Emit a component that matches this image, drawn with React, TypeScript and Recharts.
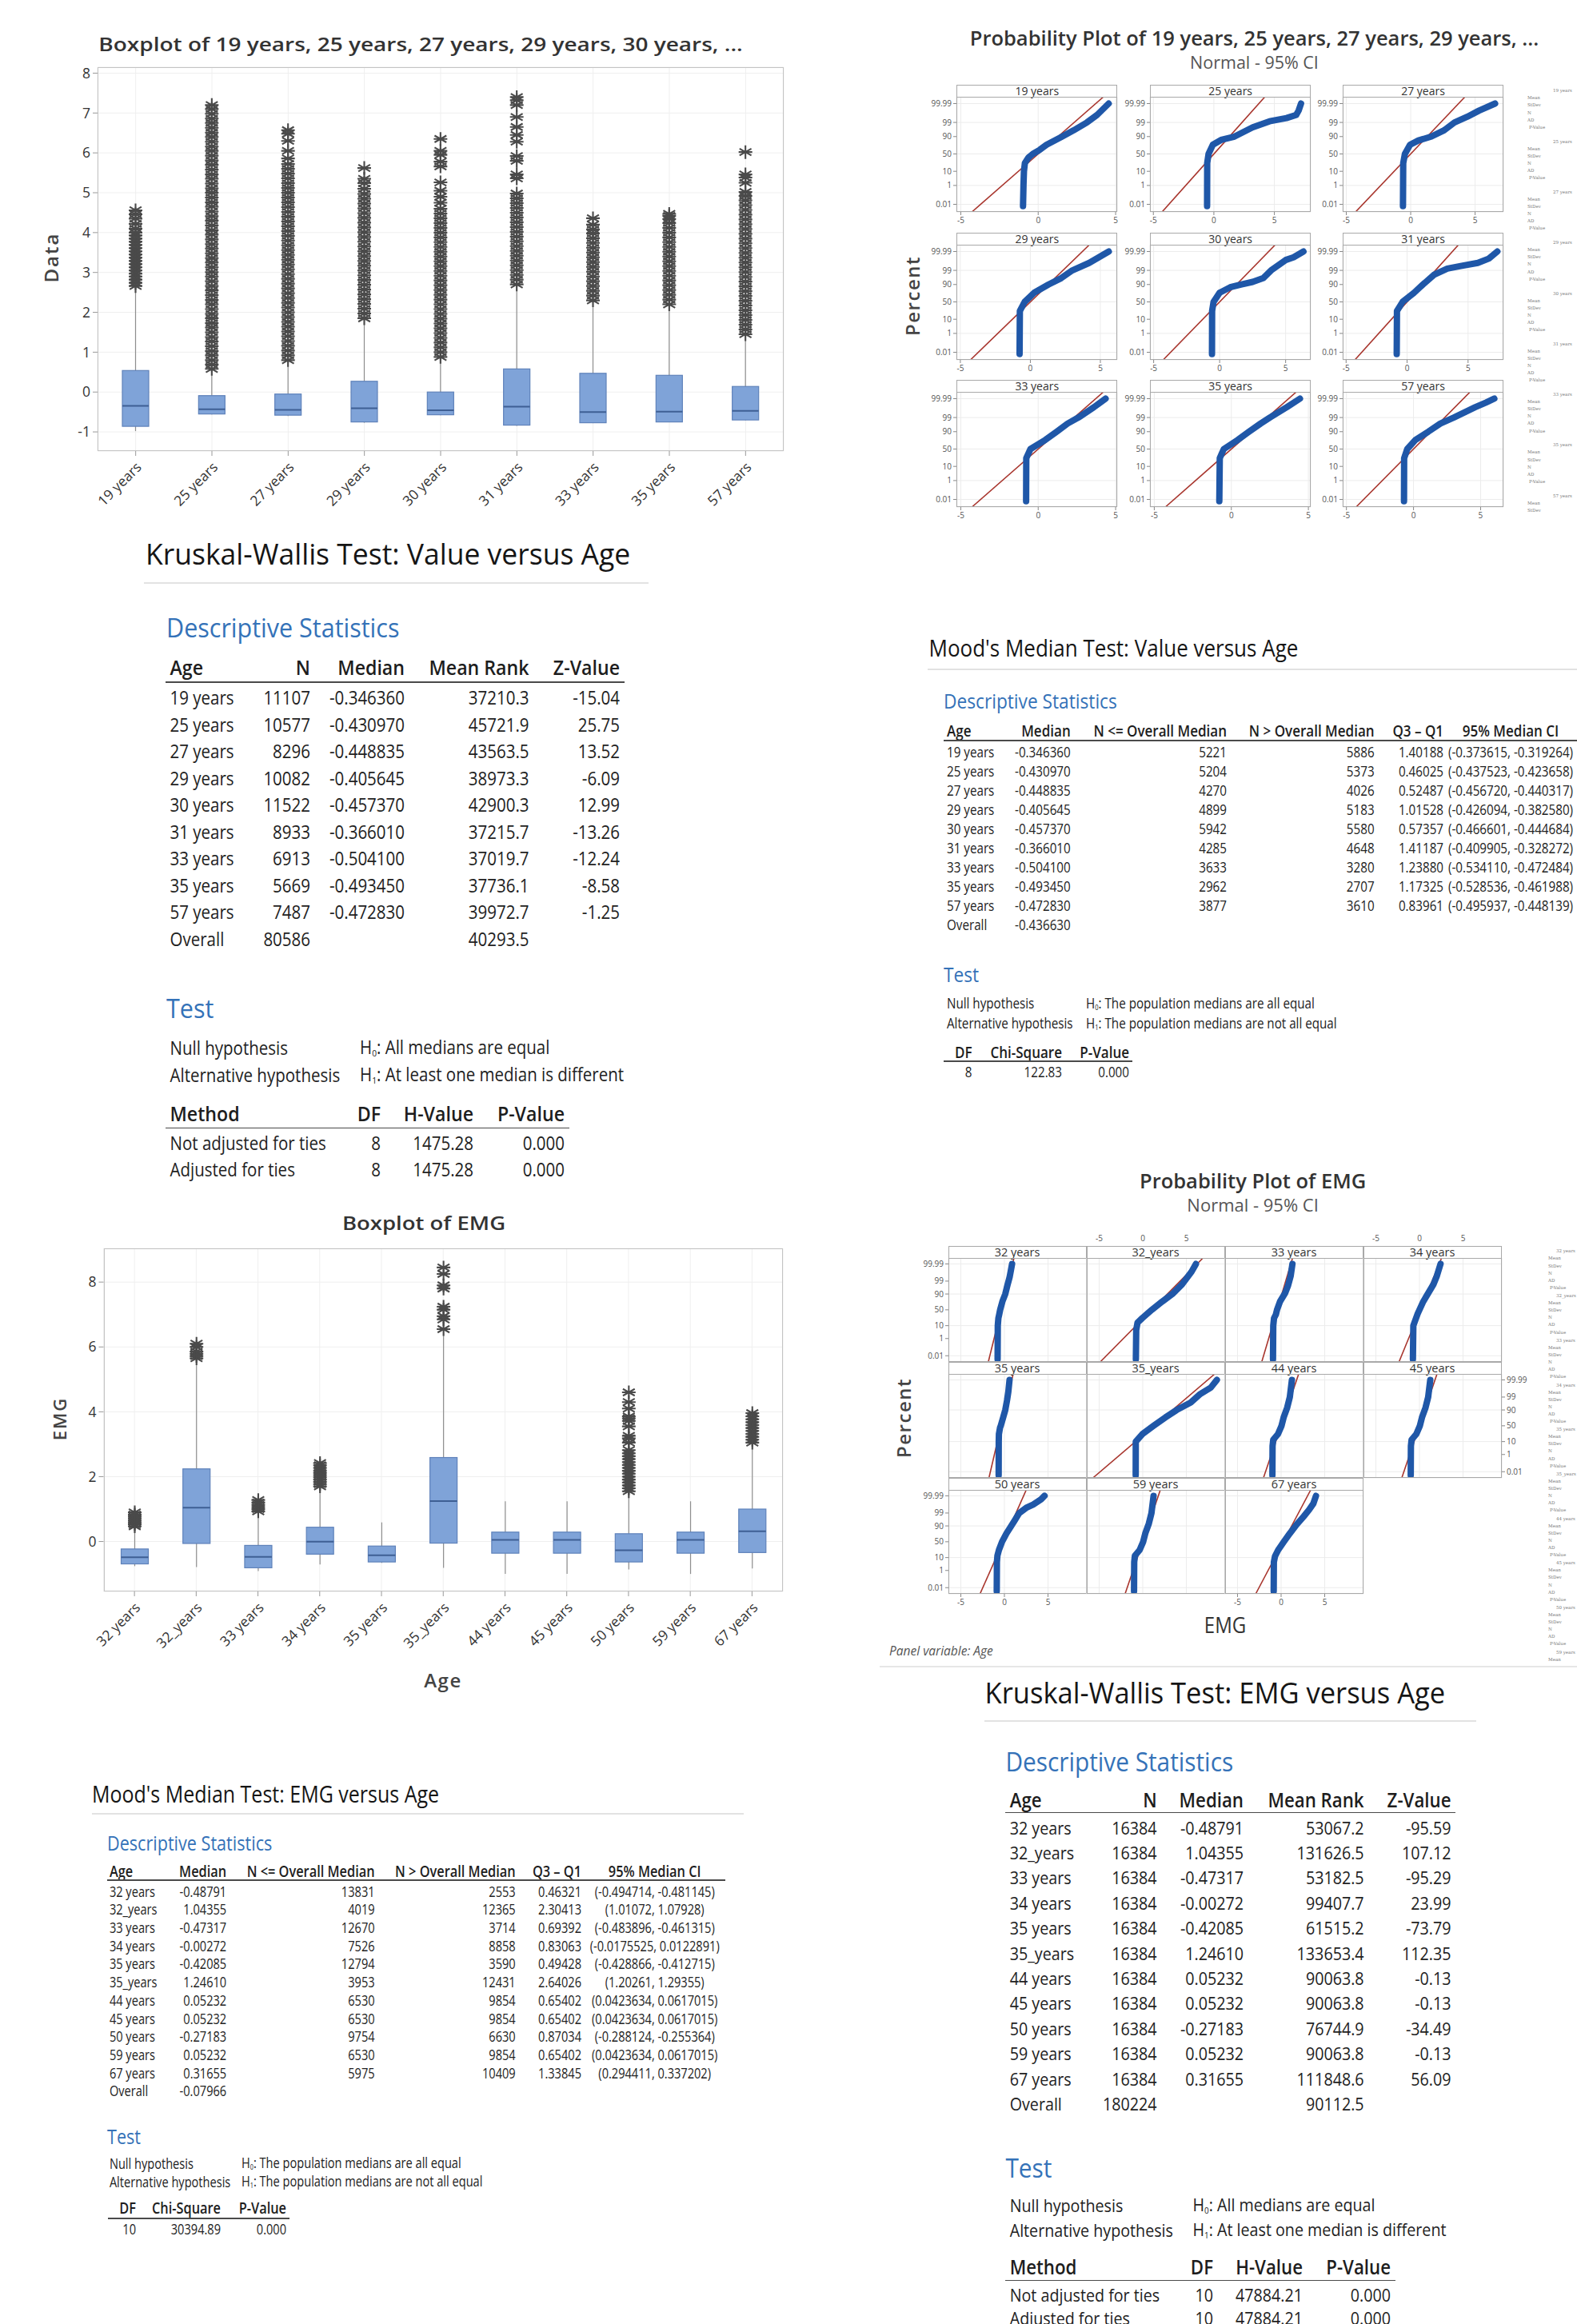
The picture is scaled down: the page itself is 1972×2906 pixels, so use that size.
import React from 'react';
import { ComposedChart, Bar, XAxis, YAxis, CartesianGrid, LineChart, Line } from 'recharts';

const SANS = "'Open Sans', 'Noto Sans', sans-serif";

// ---------- Boxplot of 19 years, 25 years, ... ----------
const valueAges = ['19 years', '25 years', '27 years', '29 years', '30 years', '31 years', '33 years', '35 years', '57 years'];
const valueWhiskerLow = [-0.98, -0.56, -0.6, -0.77, -0.58, -0.85, -0.78, -0.76, -0.71];
const valueQ1 = [-0.86, -0.55, -0.58, -0.75, -0.57, -0.83, -0.77, -0.75, -0.7];
const valueMedian = [-0.346, -0.431, -0.449, -0.406, -0.457, -0.366, -0.504, -0.493, -0.473];
const valueQ3 = [0.54, -0.09, -0.05, 0.27, 0.0, 0.58, 0.47, 0.42, 0.14];
const valueWhiskerHigh = [2.62, 0.55, 0.74, 1.79, 0.86, 2.68, 2.28, 2.16, 1.4];
const valueOutliers: number[][] = [
  [2.66, 2.74, 2.82, 2.9, 2.97, 3.05, 3.13, 3.21, 3.29, 3.37, 3.45, 3.53, 3.61, 3.69, 3.77, 3.85, 3.93, 4.0, 4.1, 4.22, 4.35, 4.46, 4.56],
  [0.58, 0.69, 0.8, 0.92, 1.03, 1.15, 1.27, 1.38, 1.5, 1.62, 1.73, 1.85, 1.96, 2.08, 2.2, 2.31, 2.43, 2.55, 2.66, 2.78, 2.9, 3.01, 3.13, 3.25, 3.36, 3.48, 3.6, 3.71, 3.83, 3.95, 4.06, 4.18, 4.3, 4.41, 4.53, 4.65, 4.76, 4.88, 5.0, 5.11, 5.23, 5.35, 5.46, 5.58, 5.7, 5.81, 5.93, 6.05, 6.16, 6.28, 6.4, 6.51, 6.63, 6.75, 6.86, 6.98, 7.1, 7.2],
  [0.8, 0.92, 1.04, 1.16, 1.28, 1.4, 1.52, 1.64, 1.76, 1.88, 2.0, 2.12, 2.24, 2.36, 2.48, 2.6, 2.72, 2.84, 2.96, 3.08, 3.2, 3.32, 3.44, 3.56, 3.68, 3.8, 3.92, 4.04, 4.16, 4.28, 4.4, 4.52, 4.64, 4.76, 4.88, 5.0, 5.12, 5.24, 5.36, 5.48, 5.6, 5.72, 5.86, 6.05, 6.3, 6.48, 6.57],
  [1.85, 1.97, 2.09, 2.21, 2.33, 2.45, 2.57, 2.69, 2.81, 2.93, 3.05, 3.17, 3.29, 3.41, 3.53, 3.65, 3.77, 3.89, 4.01, 4.13, 4.25, 4.37, 4.49, 4.61, 4.73, 4.85, 4.97, 5.1, 5.24, 5.35, 5.62],
  [0.88, 1.0, 1.12, 1.24, 1.36, 1.48, 1.6, 1.72, 1.84, 1.96, 2.08, 2.2, 2.32, 2.44, 2.56, 2.68, 2.8, 2.92, 3.04, 3.16, 3.28, 3.4, 3.52, 3.64, 3.76, 3.88, 4.0, 4.12, 4.24, 4.36, 4.48, 4.6, 4.75, 4.9, 5.05, 5.26, 5.66, 5.78, 5.95, 6.05, 6.35],
  [2.7, 2.82, 2.94, 3.06, 3.18, 3.3, 3.42, 3.54, 3.66, 3.78, 3.9, 4.02, 4.14, 4.26, 4.38, 4.5, 4.62, 4.74, 4.86, 4.98, 5.36, 5.46, 5.8, 5.92, 6.28, 6.45, 6.65, 6.9, 7.2, 7.32, 7.4],
  [2.3, 2.42, 2.54, 2.66, 2.78, 2.9, 3.02, 3.14, 3.26, 3.38, 3.5, 3.62, 3.74, 3.86, 3.98, 4.08, 4.2, 4.36],
  [2.2, 2.32, 2.44, 2.56, 2.68, 2.8, 2.92, 3.04, 3.16, 3.28, 3.4, 3.52, 3.64, 3.76, 3.88, 4.0, 4.12, 4.24, 4.34, 4.42, 4.47],
  [1.45, 1.57, 1.69, 1.81, 1.93, 2.05, 2.17, 2.29, 2.41, 2.53, 2.65, 2.77, 2.89, 3.01, 3.13, 3.25, 3.37, 3.49, 3.61, 3.73, 3.85, 3.97, 4.09, 4.21, 4.33, 4.45, 4.57, 4.69, 4.81, 4.92, 5.02, 5.25, 5.38, 5.46, 6.02],
];
const valueTicks = [-1, 0, 1, 2, 3, 4, 5, 6, 7, 8];

// ---------- Boxplot of EMG ----------
const emgAges = ['32 years', '32_years', '33 years', '34 years', '35 years', '35_years', '44 years', '45 years', '50 years', '59 years', '67 years'];
const emgWhiskerLow = [-0.76, -0.79, -0.91, -0.71, -0.66, -0.81, -1.0, -1.0, -0.86, -1.0, -0.83];
const emgQ1 = [-0.69, -0.06, -0.81, -0.39, -0.63, -0.05, -0.36, -0.36, -0.63, -0.36, -0.34];
const emgMedian = [-0.488, 1.044, -0.473, -0.003, -0.421, 1.246, 0.052, 0.052, -0.272, 0.052, 0.317];
const emgQ3 = [-0.23, 2.24, -0.12, 0.44, -0.14, 2.59, 0.29, 0.29, 0.24, 0.29, 1.0];
const emgWhiskerHigh = [0.46, 5.58, 0.9, 1.63, 0.59, 6.5, 1.24, 1.24, 1.5, 1.24, 3.0];
const emgOutliers: number[][] = [
  [0.47, 0.53, 0.59, 0.65, 0.71, 0.77, 0.83, 0.9],
  [5.65, 5.72, 5.79, 5.86, 6.0, 6.1],
  [0.93, 1.0, 1.06, 1.13, 1.2, 1.28],
  [1.7, 1.77, 1.84, 1.91, 1.98, 2.05, 2.12, 2.19, 2.27, 2.35, 2.42],
  [],
  [6.55, 6.85, 6.95, 7.15, 7.24, 7.8, 7.9, 8.25, 8.45],
  [],
  [],
  [1.55, 1.64, 1.73, 1.82, 1.91, 2.0, 2.09, 2.18, 2.27, 2.36, 2.45, 2.54, 2.63, 2.72, 2.82, 3.05, 3.18, 3.26, 3.55, 3.72, 3.8, 3.86, 4.1, 4.3, 4.6],
  [],
  [3.05, 3.14, 3.23, 3.32, 3.41, 3.5, 3.59, 3.68, 3.77, 3.86, 3.96],
];
const emgTicks = [0, 2, 4, 6, 8];

// ---------- Probability plot of 19 years, ... : [x, percent] ----------
const valueCurves: number[][][] = [
  [[-0.98, 0.006], [-0.95, 1], [-0.92, 10], [-0.86, 25], [-0.62, 40], [-0.35, 50], [0.1, 62], [0.54, 75], [1.55, 90], [2.3, 96], [3.15, 99], [3.8, 99.8], [4.55, 99.99]],
  [[-0.56, 0.006], [-0.55, 25], [-0.44, 50], [-0.09, 75], [0.6, 85], [1.7, 90], [3.2, 97.5], [4.6, 99.2], [6.0, 99.6], [6.8, 99.8], [7.0, 99.93], [7.2, 99.99]],
  [[-0.6, 0.006], [-0.58, 25], [-0.45, 50], [-0.05, 75], [0.6, 84], [1.6, 90], [2.6, 96], [3.4, 99], [4.4, 99.7], [5.3, 99.93], [6.55, 99.99]],
  [[-0.77, 0.006], [-0.75, 25], [-0.41, 50], [0.27, 75], [1.3, 90], [2.2, 96], [3.0, 99], [4.2, 99.8], [5.6, 99.99]],
  [[-0.58, 0.006], [-0.57, 25], [-0.46, 50], [0.0, 75], [0.8, 86], [1.6, 90], [2.5, 93], [3.3, 96], [3.9, 99], [5.0, 99.9], [5.6, 99.95], [6.35, 99.99]],
  [[-0.85, 0.006], [-0.83, 25], [-0.37, 50], [0.57, 75], [1.3, 90], [2.2, 97.7], [3.3, 99.3], [4.4, 99.6], [5.8, 99.8], [6.7, 99.93], [7.4, 99.99]],
  [[-0.78, 0.006], [-0.77, 25], [-0.5, 50], [0.46, 75], [1.2, 90], [1.9, 97], [2.6, 99], [3.6, 99.9], [4.35, 99.99]],
  [[-0.78, 0.006], [-0.75, 25], [-0.49, 50], [0.42, 75], [1.15, 90], [1.9, 97], [2.5, 99], [3.6, 99.9], [4.45, 99.99]],
  [[-0.71, 0.006], [-0.7, 25], [-0.47, 50], [0.14, 75], [1.1, 90], [2.0, 97], [3.0, 99], [4.6, 99.9], [5.4, 99.97], [6.02, 99.99]],
];
const valueFitMean = [0, 0, 0, 0, 0, 0, 0, 0, 0];
const valueFitSd = [1, 1, 1, 1, 1, 1, 1, 1, 1];
const valueXMax = [5.1, 8.0, 7.2, 6.2, 6.9, 7.9, 5.1, 5.15, 6.7];

// ---------- Probability plot of EMG : [x, percent] ----------
const emgCurves: number[][][] = [
  [[-0.78, 0.003], [-0.76, 10], [-0.69, 25], [-0.6, 35], [-0.49, 50], [-0.23, 75], [0.1, 90], [0.35, 97.7], [0.6, 99.6], [0.88, 99.99]],
  [[-0.79, 0.003], [-0.75, 5], [-0.6, 15], [-0.06, 25], [1.04, 50], [2.24, 75], [3.4, 90], [4.5, 98], [5.6, 99.9], [6.1, 99.99]],
  [[-0.93, 0.003], [-0.9, 10], [-0.81, 25], [-0.6, 35], [-0.47, 50], [-0.12, 75], [0.45, 91], [0.8, 97.5], [1.1, 99.7], [1.3, 99.99]],
  [[-0.75, 0.003], [-0.7, 10], [-0.39, 25], [-0.2, 38], [0.0, 50], [0.44, 75], [1.0, 91], [1.6, 98], [2.0, 99.7], [2.42, 99.99]],
  [[-0.66, 0.003], [-0.65, 10], [-0.63, 25], [-0.5, 44], [-0.42, 50], [-0.14, 75], [0.1, 90], [0.3, 98], [0.45, 99.7], [0.59, 99.99]],
  [[-0.81, 0.003], [-0.8, 10], [-0.05, 25], [1.25, 50], [2.59, 75], [3.9, 90], [5.5, 97], [6.6, 99.5], [7.8, 99.9], [8.5, 99.99]],
  [[-1.0, 0.003], [-0.98, 5], [-0.9, 13], [-0.36, 25], [0.05, 50], [0.29, 75], [0.7, 93], [1.0, 99], [1.24, 99.99]],
  [[-1.0, 0.003], [-0.98, 5], [-0.9, 13], [-0.36, 25], [0.05, 50], [0.29, 75], [0.7, 93], [1.0, 99], [1.24, 99.99]],
  [[-0.88, 0.003], [-0.86, 5], [-0.8, 13], [-0.63, 25], [-0.27, 50], [0.24, 75], [0.65, 87], [1.2, 96], [1.7, 99], [2.5, 99.7], [3.3, 99.87], [4.2, 99.97], [4.6, 99.99]],
  [[-1.0, 0.003], [-0.98, 5], [-0.9, 13], [-0.36, 25], [0.05, 50], [0.29, 75], [0.7, 93], [1.0, 99], [1.24, 99.99]],
  [[-0.85, 0.003], [-0.83, 5], [-0.7, 12], [-0.34, 25], [0.32, 50], [1.0, 75], [1.8, 92], [2.6, 98], [3.2, 99.5], [3.7, 99.9], [4.0, 99.99]],
];
const emgFitMean = [-0.37, 1.03, -0.45, 0.1, -0.38, 1.29, 0.0, 0.0, -0.14, 0.0, 0.25];
const emgFitSd = [0.35, 1.4, 0.42, 0.58, 0.33, 1.66, 0.48, 0.48, 0.63, 0.48, 0.75];

const probPercents = [0.01, 1, 10, 50, 90, 99, 99.99];
const probXTicks = [-5, 0, 5];
const legendLabels = ['Mean', 'StDev', 'N', 'AD', 'P-Value'];

// ---------- Kruskal-Wallis: Value versus Age ----------
const kwValueRows = [...valueAges, 'Overall'];
const kwValueN = ['11107', '10577', '8296', '10082', '11522', '8933', '6913', '5669', '7487', '80586'];
const kwValueMedian = ['-0.346360', '-0.430970', '-0.448835', '-0.405645', '-0.457370', '-0.366010', '-0.504100', '-0.493450', '-0.472830', ''];
const kwValueMeanRank = ['37210.3', '45721.9', '43563.5', '38973.3', '42900.3', '37215.7', '37019.7', '37736.1', '39972.7', '40293.5'];
const kwValueZ = ['-15.04', '25.75', '13.52', '-6.09', '12.99', '-13.26', '-12.24', '-8.58', '-1.25', ''];

// ---------- Mood's median: Value versus Age ----------
const moodValueMedian = ['-0.346360', '-0.430970', '-0.448835', '-0.405645', '-0.457370', '-0.366010', '-0.504100', '-0.493450', '-0.472830', '-0.436630'];
const moodValueLE = ['5221', '5204', '4270', '4899', '5942', '4285', '3633', '2962', '3877', ''];
const moodValueGT = ['5886', '5373', '4026', '5183', '5580', '4648', '3280', '2707', '3610', ''];
const moodValueIQR = ['1.40188', '0.46025', '0.52487', '1.01528', '0.57357', '1.41187', '1.23880', '1.17325', '0.83961', ''];
const moodValueCI = ['(-0.373615, -0.319264)', '(-0.437523, -0.423658)', '(-0.456720, -0.440317)', '(-0.426094, -0.382580)', '(-0.466601, -0.444684)', '(-0.409905, -0.328272)', '(-0.534110, -0.472484)', '(-0.528536, -0.461988)', '(-0.495937, -0.448139)', ''];

// ---------- Mood's median: EMG versus Age ----------
const emgRows = [...emgAges, 'Overall'];
const moodEmgMedian = ['-0.48791', '1.04355', '-0.47317', '-0.00272', '-0.42085', '1.24610', '0.05232', '0.05232', '-0.27183', '0.05232', '0.31655', '-0.07966'];
const moodEmgLE = ['13831', '4019', '12670', '7526', '12794', '3953', '6530', '6530', '9754', '6530', '5975', ''];
const moodEmgGT = ['2553', '12365', '3714', '8858', '3590', '12431', '9854', '9854', '6630', '9854', '10409', ''];
const moodEmgIQR = ['0.46321', '2.30413', '0.69392', '0.83063', '0.49428', '2.64026', '0.65402', '0.65402', '0.87034', '0.65402', '1.33845', ''];
const moodEmgCI = ['(-0.494714, -0.481145)', '(1.01072, 1.07928)', '(-0.483896, -0.461315)', '(-0.0175525, 0.0122891)', '(-0.428866, -0.412715)', '(1.20261, 1.29355)', '(0.0423634, 0.0617015)', '(0.0423634, 0.0617015)', '(-0.288124, -0.255364)', '(0.0423634, 0.0617015)', '(0.294411, 0.337202)', ''];

// ---------- Kruskal-Wallis: EMG versus Age ----------
const kwEmgN = ['16384', '16384', '16384', '16384', '16384', '16384', '16384', '16384', '16384', '16384', '16384', '180224'];
const kwEmgMedian = ['-0.48791', '1.04355', '-0.47317', '-0.00272', '-0.42085', '1.24610', '0.05232', '0.05232', '-0.27183', '0.05232', '0.31655', ''];
const kwEmgMeanRank = ['53067.2', '131626.5', '53182.5', '99407.7', '61515.2', '133653.4', '90063.8', '90063.8', '76744.9', '90063.8', '111848.6', '90112.5'];
const kwEmgZ = ['-95.59', '107.12', '-95.29', '23.99', '-73.79', '112.35', '-0.13', '-0.13', '-34.49', '-0.13', '56.09', ''];

// inverse of the standard normal CDF (probability axis transform)
function probit(p: number): number {
  const a = [-39.69683028665376, 220.9460984245205, -275.9285104469687, 138.357751867269, -30.66479806614716, 2.506628277459239];
  const b = [-54.47609879822406, 161.5858368580409, -155.6989798598866, 66.80131188771972, -13.28068155288572];
  const c = [-0.007784894002430293, -0.3223964580411365, -2.400758296434118, -2.549732539343734, 4.374664141464968, 2.938163982698783];
  const d = [0.007784695709041462, 0.3224671290700398, 2.445134137142996, 3.754408661907416];
  const lo = 0.02425;
  if (p < lo) {
    const q = Math.sqrt(-2 * Math.log(p));
    return (((((c[0] * q + c[1]) * q + c[2]) * q + c[3]) * q + c[4]) * q + c[5]) / ((((d[0] * q + d[1]) * q + d[2]) * q + d[3]) * q + 1);
  }
  if (p > 1 - lo) {
    const q = Math.sqrt(-2 * Math.log(1 - p));
    return -(((((c[0] * q + c[1]) * q + c[2]) * q + c[3]) * q + c[4]) * q + c[5]) / ((((d[0] * q + d[1]) * q + d[2]) * q + d[3]) * q + 1);
  }
  const q = p - 0.5;
  const r = q * q;
  return ((((((a[0] * r + a[1]) * r + a[2]) * r + a[3]) * r + a[4]) * r + a[5]) * q) / (((((b[0] * r + b[1]) * r + b[2]) * r + b[3]) * r + b[4]) * r + 1);
}

// ---------- small helpers ----------
type TProps = {
  x: number; y: number; size: number; children: React.ReactNode;
  align?: 'left' | 'right' | 'center'; weight?: number; color?: string;
  italic?: boolean; sy?: number; spacing?: number; rotate?: number;
};
const T = ({ x, y, size, children, align = 'left', weight = 400, color = '#222', italic, sy = 1, spacing = 0, rotate = 0 }: TProps) => {
  const tx = align === 'left' ? '0' : align === 'right' ? '-100%' : '-50%';
  return (
    <div
      style={{
        position: 'absolute', left: x, top: y, whiteSpace: 'nowrap', lineHeight: 1,
        transform: `translate(${tx}, -50%) rotate(${rotate}deg) scaleY(${sy})`,
        fontFamily: SANS, fontSize: size, fontWeight: weight, color,
        fontStyle: italic ? 'italic' : 'normal', letterSpacing: spacing,
      }}
    >
      {children}
    </div>
  );
};

const HLine = ({ x1, x2, y, color = '#444', w = 1.5 }: { x1: number; x2: number; y: number; color?: string; w?: number }) => (
  <div style={{ position: 'absolute', left: x1, top: y - w / 2, width: x2 - x1, height: w, background: color }} />
);

const Frame = ({ left, top, w, h, color = '#c4c4c4' }: { left: number; top: number; w: number; h: number; color?: string }) => (
  <div style={{ position: 'absolute', left, top, width: w, height: h, border: `1px solid ${color}`, boxSizing: 'border-box', pointerEvents: 'none' }} />
);

const H = ({ n, text }: { n: string; text: string }) => (
  <span>
    H<sub style={{ fontSize: '0.5em', verticalAlign: '-0.25em' }}>{n}</sub>: {text}
  </span>
);

// ---------- boxplot ----------
const Asterisk = ({ cx, cy }: { cx: number; cy: number }) => {
  const r = 8.5;
  const dx = r * 0.87;
  const dy = r * 0.5;
  return (
    <path
      d={`M${cx},${cy - r}L${cx},${cy + r}M${cx - dx},${cy - dy}L${cx + dx},${cy + dy}M${cx - dx},${cy + dy}L${cx + dx},${cy - dy}M${cx - r},${cy}L${cx + r},${cy}`}
      stroke="#4a4a4a" strokeWidth={2.1} fill="none"
    />
  );
};

const BoxShape = (props: any) => {
  const { x, y, width, height, payload } = props;
  const top = Math.min(y, y + height);
  const h = Math.abs(height);
  const ppu = h / (payload.high - payload.low);
  const py = (v: number) => top + (payload.high - v) * ppu;
  const cx = x + width / 2;
  return (
    <g>
      <line x1={cx} x2={cx} y1={py(payload.high)} y2={py(payload.low)} stroke="#8e8e8e" strokeWidth={1.2} />
      <rect x={x} y={py(payload.q3)} width={width} height={py(payload.q1) - py(payload.q3)} fill="#7fa3d8" stroke="#5f82ba" strokeWidth={1.2} />
      <line x1={x} x2={x + width} y1={py(payload.median)} y2={py(payload.median)} stroke="#3e5f94" strokeWidth={2} />
      {payload.outliers.map((v: number, i: number) => (
        <Asterisk key={i} cx={cx} cy={py(v)} />
      ))}
    </g>
  );
};

const RotTick = (props: any) => {
  const { x, y, payload } = props;
  return (
    <g transform={`translate(${x + 4},${y + 9})`}>
      <text x={0} y={0} dy="0.35em" textAnchor="end" transform="rotate(-45)" fontSize={17.5} fill="#333" fontFamily={SANS}>
        {payload.value}
      </text>
    </g>
  );
};

type BoxChartProps = {
  left: number; top: number; width: number; height: number;
  margin: { top: number; right: number; bottom: number; left: number };
  xAxisH: number; data: any[]; domain: [number, number]; ticks: number[]; barSize: number;
};
const BoxChart = ({ left, top, width, height, margin, xAxisH, data, domain, ticks, barSize }: BoxChartProps) => (
  <div style={{ position: 'absolute', left, top }}>
    <ComposedChart width={width} height={height} data={data} margin={margin}>
      <CartesianGrid stroke="#efefef" />
      <XAxis dataKey="age" type="category" interval={0} height={xAxisH} tick={<RotTick />} tickLine={{ stroke: '#999' }} tickSize={6} axisLine={false} />
      <YAxis
        type="number" domain={domain} ticks={ticks} allowDataOverflow width={40}
        tick={{ fontSize: 17.5, fill: '#333', fontFamily: SANS }} tickLine={{ stroke: '#999' }} tickSize={6} tickMargin={3} axisLine={false}
      />
      <Bar dataKey={(d: any) => [d.low, d.high]} shape={BoxShape} barSize={barSize} isAnimationActive={false} />
    </ComposedChart>
  </div>
);

// ---------- probability plot panel ----------
type PanelProps = {
  left: number; top: number; w: number; h: number; headerH: number; label: string;
  curve: number[][]; mean: number; sd: number;
  xDomain: [number, number]; zDomain: [number, number];
  xAxis?: 'top' | 'bottom'; yAxis?: 'left' | 'right'; xTickMargin?: number; headerFont: number;
};
const ProbPanel = (p: PanelProps) => {
  const M = 50;
  const YW = 40;
  const XH = 26;
  const curveData = p.curve.map(([x, pct]) => ({ x, z: probit(pct / 100) }));
  const [z0, z1] = p.zDomain;
  const fitData = [
    { x: p.mean + z0 * p.sd, z: z0 },
    { x: p.mean + z1 * p.sd, z: z1 },
  ];
  const margin = {
    top: p.xAxis === 'top' ? M - XH : M,
    bottom: p.xAxis === 'bottom' ? M - XH : M,
    left: p.yAxis === 'left' ? M - YW : M,
    right: p.yAxis === 'right' ? M - YW : M,
  };
  const zTicks = probPercents.map((v) => probit(v / 100));
  const tickStyle = { fontSize: 10, fill: '#555', fontFamily: SANS };
  return (
    <>
      <div style={{ position: 'absolute', left: p.left - M, top: p.top - M }}>
        <LineChart width={p.w + 2 * M} height={p.h + 2 * M} margin={margin}>
          <CartesianGrid stroke="#ececec" />
          <XAxis
            type="number" dataKey="x" domain={p.xDomain} ticks={probXTicks} allowDataOverflow
            hide={!p.xAxis} orientation={p.xAxis ?? 'bottom'} height={XH}
            tick={tickStyle} tickLine={p.xAxis === 'top' ? false : { stroke: '#888' }} tickSize={p.xAxis === 'top' ? 0 : 4}
            tickMargin={p.xTickMargin ?? 3} axisLine={false}
          />
          <YAxis
            type="number" dataKey="z" domain={p.zDomain} ticks={zTicks} allowDataOverflow
            hide={!p.yAxis} orientation={p.yAxis ?? 'left'} width={YW}
            tickFormatter={(_v: number, i: number) => String(probPercents[i])}
            tick={tickStyle} tickLine={{ stroke: '#888' }} tickSize={4} tickMargin={2} axisLine={false}
          />
          <Line data={fitData} dataKey="z" stroke="#a8352d" strokeWidth={1.6} dot={false} isAnimationActive={false} />
          <Line
            data={curveData} dataKey="z" stroke="#1f57a8" strokeWidth={8} strokeLinecap="round" strokeLinejoin="round"
            dot={false} isAnimationActive={false}
          />
        </LineChart>
      </div>
      <div
        style={{
          position: 'absolute', left: p.left, top: p.top - p.headerH, width: p.w, height: p.headerH + 1,
          border: '1px solid #a9a9a9', boxSizing: 'border-box', background: '#fff',
          fontFamily: SANS, fontSize: p.headerFont, color: '#333', textAlign: 'center', lineHeight: `${p.headerH - 2}px`,
        }}
      >
        {p.label}
      </div>
      <Frame left={p.left} top={p.top} w={p.w} h={p.h} color="#a9a9a9" />
    </>
  );
};

// ---------- tables ----------
type Col = { x: number; align: 'left' | 'right' | 'center'; head: string; values: string[] };
type TableProps = { cols: Col[]; headY: number; y0: number; step: number; size: number; line: [number, number, number]; sy?: number; headScale?: number };
const StatTable = ({ cols, headY, y0, step, size, line, sy = 1, headScale = 1.1 }: TableProps) => (
  <>
    {cols.map((c, ci) => (
      <React.Fragment key={ci}>
        <T x={c.x} y={headY} size={size * headScale} weight={600} align={c.align} color="#1d1d1d" sy={sy}>{c.head}</T>
        {c.values.map((v, ri) => (v ? <T key={ri} x={c.x} y={y0 + ri * step} size={size} align={c.align} sy={sy}>{v}</T> : null))}
      </React.Fragment>
    ))}
    <HLine x1={line[0]} x2={line[1]} y={line[2]} color="#4a4a4a" w={1.6} />
  </>
);

// tiny per-panel statistics legend at the right edge of the probability plots
type LegendProps = { x: number; headX: number; y0: number; step: number; names: string[]; maxY: number };
const SideLegend = ({ x, headX, y0, step, names, maxY }: LegendProps) => {
  const style = (left: number, top: number): React.CSSProperties => ({
    position: 'absolute', left, top, fontSize: 5.5, lineHeight: 1, color: '#777', fontFamily: 'DejaVu Serif', whiteSpace: 'nowrap',
  });
  return (
    <>
      {names.map((n, i) => {
        const by = y0 + i * step;
        return (
          <React.Fragment key={i}>
            {by - 12 < maxY ? <div style={style(headX, by - 12)}>{n}</div> : null}
            {legendLabels.map((l, k) =>
              by + k * 9.1 - 3 < maxY ? <div key={l} style={style(x + (k === 4 ? 2 : 0), by + k * 9.1 - 3)}>{l}</div> : null,
            )}
          </React.Fragment>
        );
      })}
    </>
  );
};

export default function App() {
  const valueData = valueAges.map((age, i) => ({
    age, low: valueWhiskerLow[i], q1: valueQ1[i], median: valueMedian[i], q3: valueQ3[i], high: valueWhiskerHigh[i], outliers: valueOutliers[i],
  }));
  const emgData = emgAges.map((age, i) => ({
    age, low: emgWhiskerLow[i], q1: emgQ1[i], median: emgMedian[i], q3: emgQ3[i], high: emgWhiskerHigh[i], outliers: emgOutliers[i],
  }));

  const vLefts = [1196.3, 1438.2, 1679];
  const vTops = [121.4, 306, 490];
  const eLefts = [1185.5, 1358.5, 1531.5, 1704.5];
  const eTops = [1573, 1718, 1863];

  const KW_SY = 1.12;
  const MOOD_SY = 1.2;

  return (
    <div style={{ position: 'absolute', left: 0, top: 0, width: 1972, height: 2906, overflow: 'hidden', background: '#fff' }}>
      {/* ===== Boxplot of 19 years ... ===== */}
      <T x={526} y={55} size={28} weight={600} color="#333" align="center" sy={0.82}>Boxplot of 19 years, 25 years, 27 years, 29 years, 30 years, ...</T>
      <BoxChart
        left={0} top={0} width={1000} height={660} margin={{ top: 84, right: 20, bottom: 0, left: 82 }} xAxisH={96}
        data={valueData} domain={[-1.48, 8.15]} ticks={valueTicks} barSize={33}
      />
      <Frame left={122} top={84} w={858} h={480} />
      <T x={64} y={322} size={24} weight={600} color="#444" align="center" spacing={2} rotate={-90}>Data</T>

      {/* ===== Kruskal-Wallis: Value versus Age ===== */}
      <T x={182} y={692} size={35.5} color="#151515" sy={1.05}>Kruskal-Wallis Test: Value versus Age</T>
      <HLine x1={180} x2={811} y={729} color="#e2e2e2" w={2} />
      <T x={208} y={784} size={30.5} color="#3472b8" sy={1.08}>Descriptive Statistics</T>
      <StatTable
        headY={835} y0={872.3} step={33.47} size={20.5} line={[207, 781, 853]} sy={KW_SY} headScale={1.13}
        cols={[
          { x: 212.5, align: 'left', head: 'Age', values: kwValueRows },
          { x: 388, align: 'right', head: 'N', values: kwValueN },
          { x: 506, align: 'right', head: 'Median', values: kwValueMedian },
          { x: 661.5, align: 'right', head: 'Mean Rank', values: kwValueMeanRank },
          { x: 775, align: 'right', head: 'Z-Value', values: kwValueZ },
        ]}
      />
      <T x={208} y={1260} size={30.5} color="#3472b8" sy={1.08}>Test</T>
      <T x={212.5} y={1310} size={20.5} sy={KW_SY}>Null hypothesis</T>
      <T x={450} y={1310} size={20.5} sy={KW_SY}><H n="0" text="All medians are equal" /></T>
      <T x={212.5} y={1344} size={20.5} sy={KW_SY}>Alternative hypothesis</T>
      <T x={450} y={1344} size={20.5} sy={KW_SY}><H n="1" text="At least one median is different" /></T>
      <StatTable
        headY={1393} y0={1429} step={33.3} size={20.5} line={[207, 712, 1410.7]} sy={KW_SY} headScale={1.13}
        cols={[
          { x: 212.5, align: 'left', head: 'Method', values: ['Not adjusted for ties', 'Adjusted for ties'] },
          { x: 476, align: 'right', head: 'DF', values: ['8', '8'] },
          { x: 592, align: 'right', head: 'H-Value', values: ['1475.28', '1475.28'] },
          { x: 706, align: 'right', head: 'P-Value', values: ['0.000', '0.000'] },
        ]}
      />

      {/* ===== Boxplot of EMG ===== */}
      <T x={530} y={1530} size={27.5} weight={600} color="#333" align="center" sy={0.82}>Boxplot of EMG</T>
      <BoxChart
        left={0} top={1490} width={1000} height={620} margin={{ top: 71, right: 21, bottom: 0, left: 89.5 }} xAxisH={120}
        data={emgData} domain={[-1.54, 9.04]} ticks={emgTicks} barSize={34}
      />
      <Frame left={129.5} top={1561} w={849.5} h={429} />
      <T x={74} y={1774} size={22} weight={600} color="#444" align="center" spacing={2} rotate={-90}>EMG</T>
      <T x={554} y={2101} size={24} weight={600} color="#444" align="center" spacing={1.5}>Age</T>

      {/* ===== Mood's Median: EMG versus Age ===== */}
      <T x={115} y={2243.4} size={25} color="#151515" sy={1.15}>Mood's Median Test: EMG versus Age</T>
      <HLine x1={115} x2={930} y={2268} color="#e2e2e2" w={2} />
      <T x={134} y={2305.4} size={21.6} color="#3472b8" sy={1.15}>Descriptive Statistics</T>
      <StatTable
        headY={2340} y0={2364.7} step={22.69} size={14.6} line={[134, 907, 2351]} sy={MOOD_SY} headScale={1.12}
        cols={[
          { x: 136.9, align: 'left', head: 'Age', values: emgRows },
          { x: 283.2, align: 'right', head: 'Median', values: moodEmgMedian },
          { x: 468.6, align: 'right', head: 'N <= Overall Median', values: moodEmgLE },
          { x: 644.7, align: 'right', head: 'N > Overall Median', values: moodEmgGT },
          { x: 727, align: 'right', head: 'Q3 – Q1', values: moodEmgIQR },
          { x: 818.7, align: 'center', head: '95% Median CI', values: moodEmgCI },
        ]}
      />
      <T x={134} y={2671.7} size={21.6} color="#3472b8" sy={1.15}>Test</T>
      <T x={136.9} y={2705} size={14.6} sy={MOOD_SY}>Null hypothesis</T>
      <T x={302} y={2705} size={14.6} sy={MOOD_SY}><H n="0" text="The population medians are all equal" /></T>
      <T x={136.9} y={2728} size={14.6} sy={MOOD_SY}>Alternative hypothesis</T>
      <T x={302} y={2728} size={14.6} sy={MOOD_SY}><H n="1" text="The population medians are not all equal" /></T>
      <StatTable
        headY={2761} y0={2787} step={22.7} size={14.6} line={[135, 362, 2774]} sy={MOOD_SY} headScale={1.12}
        cols={[
          { x: 170, align: 'right', head: 'DF', values: ['10'] },
          { x: 276, align: 'right', head: 'Chi-Square', values: ['30394.89'] },
          { x: 358, align: 'right', head: 'P-Value', values: ['0.000'] },
        ]}
      />

      {/* ===== Probability Plot of 19 years ... ===== */}
      <T x={1568.5} y={48} size={25.5} weight={600} color="#333" align="center">Probability Plot of 19 years, 25 years, 27 years, 29 years, ...</T>
      <T x={1568.5} y={78} size={21.5} color="#555" align="center">Normal - 95% CI</T>
      <T x={1141} y={370} size={24} weight={600} color="#444" align="center" spacing={1.5} rotate={-90}>Percent</T>
      {valueAges.map((age, i) => (
        <ProbPanel
          key={age}
          left={vLefts[i % 3]} top={vTops[Math.floor(i / 3)]} w={201} h={144} headerH={15.5} headerFont={14}
          label={age} curve={valueCurves[i]} mean={valueFitMean[i]} sd={valueFitSd[i]}
          xDomain={[-5.28, valueXMax[i]]} zDomain={[-4.28, 4.22]} xAxis="bottom" yAxis="left"
        />
      ))}
      <SideLegend x={1910} headX={1942} y0={123.3} step={63.3} names={valueAges} maxY={640} />

      {/* ===== Mood's Median: Value versus Age ===== */}
      <T x={1161.5} y={810} size={26} color="#151515" sy={1.15}>Mood's Median Test: Value versus Age</T>
      <HLine x1={1160} x2={1972} y={837} color="#e2e2e2" w={2} />
      <T x={1180} y={877} size={22.7} color="#3472b8" sy={1.15}>Descriptive Statistics</T>
      <StatTable
        headY={913} y0={941} step={24.0} size={15.2} line={[1180, 1972, 926]} sy={MOOD_SY} headScale={1.12}
        cols={[
          { x: 1184, align: 'left', head: 'Age', values: kwValueRows },
          { x: 1338.7, align: 'right', head: 'Median', values: moodValueMedian },
          { x: 1534, align: 'right', head: 'N <= Overall Median', values: moodValueLE },
          { x: 1718.6, align: 'right', head: 'N > Overall Median', values: moodValueGT },
          { x: 1805, align: 'right', head: 'Q3 – Q1', values: moodValueIQR },
          { x: 1889, align: 'center', head: '95% Median CI', values: moodValueCI },
        ]}
      />
      <T x={1180} y={1219} size={22.7} color="#3472b8" sy={1.15}>Test</T>
      <T x={1184} y={1255} size={15.2} sy={MOOD_SY}>Null hypothesis</T>
      <T x={1358} y={1255} size={15.2} sy={MOOD_SY}><H n="0" text="The population medians are all equal" /></T>
      <T x={1184} y={1279.5} size={15.2} sy={MOOD_SY}>Alternative hypothesis</T>
      <T x={1358} y={1279.5} size={15.2} sy={MOOD_SY}><H n="1" text="The population medians are not all equal" /></T>
      <StatTable
        headY={1314.6} y0={1340.5} step={24} size={15.2} line={[1180, 1416, 1327]} sy={MOOD_SY} headScale={1.12}
        cols={[
          { x: 1215.5, align: 'right', head: 'DF', values: ['8'] },
          { x: 1328, align: 'right', head: 'Chi-Square', values: ['122.83'] },
          { x: 1412, align: 'right', head: 'P-Value', values: ['0.000'] },
        ]}
      />

      {/* ===== Probability Plot of EMG ===== */}
      <T x={1566.6} y={1477} size={25.5} weight={600} color="#333" align="center">Probability Plot of EMG</T>
      <T x={1566.6} y={1506} size={22} color="#555" align="center">Normal - 95% CI</T>
      <T x={1130} y={1773} size={24} weight={600} color="#444" align="center" spacing={1.5} rotate={-90}>Percent</T>
      {emgAges.map((age, i) => {
        const col = i % 4;
        const row = Math.floor(i / 4);
        let xAxis: 'top' | 'bottom' | undefined;
        if (row === 0 && (col === 1 || col === 3)) xAxis = 'top';
        if (row === 2 && (col === 0 || col === 2)) xAxis = 'bottom';
        let yAxis: 'left' | 'right' | undefined;
        if (col === 0 && row !== 1) yAxis = 'left';
        if (col === 3 && row === 1) yAxis = 'right';
        return (
          <ProbPanel
            key={age}
            left={eLefts[col]} top={eTops[row]} w={173} h={130} headerH={15} headerFont={14.5}
            label={age} curve={emgCurves[i]} mean={emgFitMean[i]} sd={emgFitSd[i]}
            xDomain={[-6.42, 9.45]} zDomain={[-4.22, 4.2]} xAxis={xAxis} yAxis={yAxis}
            xTickMargin={xAxis === 'top' ? 21 : 3}
          />
        );
      })}
      <T x={1532} y={2032} size={24} color="#333" align="center" sy={1.1}>EMG</T>
      <T x={1112} y={2065} size={15.5} color="#555" italic>Panel variable: Age</T>
      <HLine x1={1100} x2={1972} y={2084} color="#e6e6e6" w={1.5} />
      <SideLegend x={1936} headX={1946} y0={1574.4} step={55.7} names={emgAges} maxY={2076} />

      {/* ===== Kruskal-Wallis: EMG versus Age ===== */}
      <T x={1231.6} y={2117} size={34.5} color="#151515" sy={1.05}>Kruskal-Wallis Test: EMG versus Age</T>
      <HLine x1={1231} x2={1845.5} y={2152} color="#e2e2e2" w={2} />
      <T x={1257.4} y={2203} size={29.8} color="#3472b8" sy={1.08}>Descriptive Statistics</T>
      <StatTable
        headY={2251} y0={2285.7} step={31.39} size={19.7} line={[1257, 1820, 2266.4]} sy={KW_SY} headScale={1.13}
        cols={[
          { x: 1262.7, align: 'left', head: 'Age', values: emgRows },
          { x: 1446.6, align: 'right', head: 'N', values: kwEmgN },
          { x: 1555, align: 'right', head: 'Median', values: kwEmgMedian },
          { x: 1705.6, align: 'right', head: 'Mean Rank', values: kwEmgMeanRank },
          { x: 1814.5, align: 'right', head: 'Z-Value', values: kwEmgZ },
        ]}
      />
      <T x={1257.4} y={2711} size={29.8} color="#3472b8" sy={1.08}>Test</T>
      <T x={1262.7} y={2758} size={19.7} sy={KW_SY}>Null hypothesis</T>
      <T x={1491.5} y={2758} size={19.7} sy={KW_SY}><H n="0" text="All medians are equal" /></T>
      <T x={1262.7} y={2789} size={19.7} sy={KW_SY}>Alternative hypothesis</T>
      <T x={1491.5} y={2789} size={19.7} sy={KW_SY}><H n="1" text="At least one median is different" /></T>
      <StatTable
        headY={2835} y0={2870} step={28.6} size={19.7} line={[1257, 1745, 2851.7]} sy={KW_SY} headScale={1.13}
        cols={[
          { x: 1262.7, align: 'left', head: 'Method', values: ['Not adjusted for ties', 'Adjusted for ties'] },
          { x: 1517, align: 'right', head: 'DF', values: ['10', '10'] },
          { x: 1629, align: 'right', head: 'H-Value', values: ['47884.21', '47884.21'] },
          { x: 1739, align: 'right', head: 'P-Value', values: ['0.000', '0.000'] },
        ]}
      />
    </div>
  );
}
